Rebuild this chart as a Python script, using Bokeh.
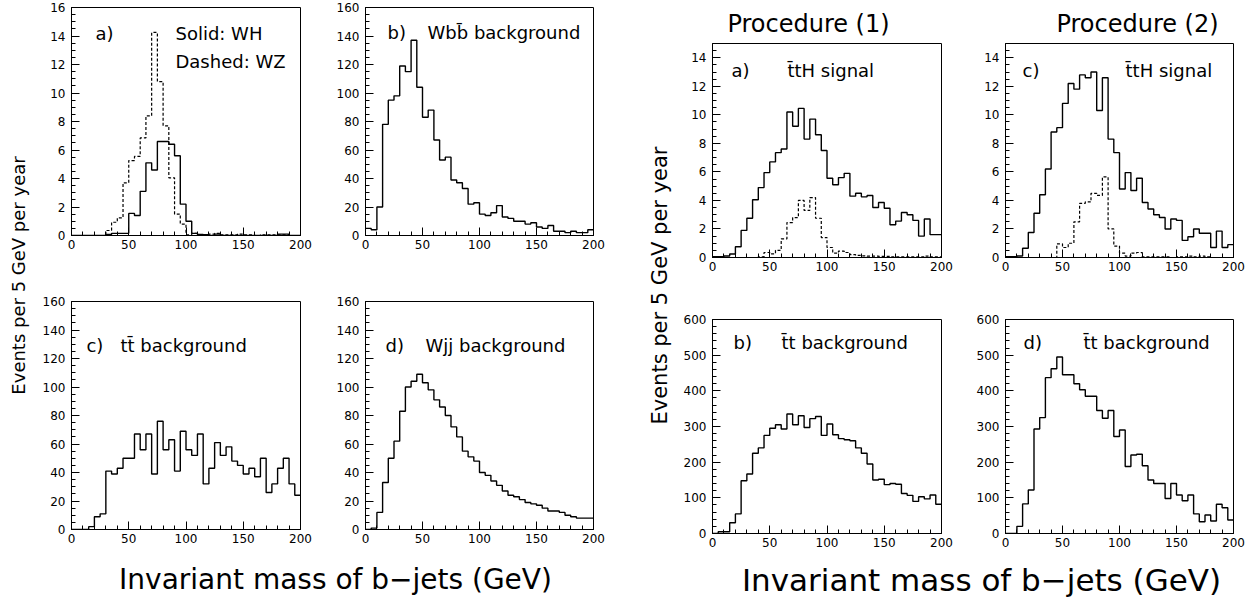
import numpy as np
from bokeh.plotting import figure
from bokeh.layouts import row, column
from bokeh.models import Range1d, SingleIntervalTicker
from bokeh.core.properties import value
from bokeh.embed import file_html
from bokeh.resources import INLINE

FONT = "DejaVu Sans"

# ---------------- data (events per 5 GeV bin, 0-200 GeV) ----------------
bin_edges = list(range(0, 205, 5))

wh_signal = [0, 0, 0, 0, 0, 0, 0.07, 0.15, 0.15, 0.15, 1.55, 1.4, 3.1, 5.1, 4.6, 6.6, 6.6, 6.4, 5.6, 2.2,
             1.0, 0.15, 0.07, 0.05, 0, 0.1, 0, 0, 0, 0, 0, 0, 0, 0, 0, 0, 0.1, 0.1, 0, 0]
wz_bkg = [0, 0, 0, 0, 0, 0, 0.35, 0.93, 1.24, 3.7, 5.26, 5.55, 6.85, 8.4, 14.25, 10.8, 7.7, 4.05, 1.5, 0.8,
          0.05, 0.15, 0.05, 0.05, 0.1, 0.15, 0.05, 0.05, 0.05, 0.1, 0.05, 0.05, 0, 0.05, 0.05, 0.05, 0.05, 0.05, 0, 0]
wbb_bkg = [5, 4, 20, 78, 95, 98, 119, 115, 137, 104, 83, 88, 67, 53, 55, 39, 37, 33, 22, 23,
           15, 14, 16, 21, 13, 12, 10, 10, 8, 9, 6, 5, 7, 3, 3, 2, 3, 2, 2, 4]
tt_bkg_wh = [0, 0, 0, 2, 9, 11, 41, 39, 43, 50, 50, 67, 56, 67, 39, 76, 56, 63, 41, 69,
             56, 52, 67, 32, 43, 61, 52, 58, 48, 45, 39, 43, 37, 50, 26, 32, 43, 50, 32, 24]
wjj_bkg = [0, 1, 12, 33, 50, 62, 83, 100, 104, 109, 103, 98, 91, 86, 80, 72, 65, 55, 51, 48,
           40, 38, 34, 31, 27, 24, 23, 21, 19, 18, 17, 15, 13, 13, 12, 10, 9, 8, 8, 8]

tth_proc1 = [0.05, 0.05, 0.1, 0.25, 0.75, 1.9, 2.75, 4.05, 4.9, 5.95, 6.7, 7.35, 7.6, 10.2, 9.2, 10.45, 8.3, 9.7, 8.6, 7.5,
             5.55, 5.1, 5.6, 5.9, 4.3, 4.5, 4.25, 4.35, 3.5, 3.85, 3.45, 2.3, 2.55, 3.15, 3.0, 2.6, 1.5, 2.7, 1.6, 1.6]
tth_proc1_dashed = [0, 0, 0, 0, 0, 0, 0, 0, 0.05, 0.35, 0.25, 0.5, 1.3, 2.45, 2.8, 4.0, 3.3, 4.2, 2.75, 1.4,
                    0.7, 0.3, 0.45, 0.35, 0.2, 0.15, 0.12, 0.1, 0.1, 0.08, 0.08, 0.05, 0.05, 0.05, 0.05, 0.05, 0.05, 0.1, 0.05, 0.05]
tth_proc2 = [0.05, 0.05, 0.1, 0.65, 1.75, 3.1, 4.4, 6.2, 8.8, 9.1, 10.8, 12.2, 11.8, 12.8, 12.6, 13.0, 10.3, 12.6, 8.3, 7.35,
             4.8, 5.95, 4.7, 5.55, 3.85, 3.4, 3.0, 2.8, 2.0, 2.7, 2.6, 1.2, 1.45, 2.0, 1.7, 1.7, 0.7, 1.85, 0.7, 0.9]
tth_proc2_dashed = [0, 0, 0, 0, 0, 0, 0, 0, 0, 0.95, 0.7, 1.0, 2.5, 3.8, 3.9, 4.5, 4.35, 5.65, 2.0, 0.8,
                    0.3, 0.1, 0.3, 0.35, 0.05, 0.05, 0.05, 0.05, 0.05, 0, 0.05, 0.05, 0.1, 0.05, 0.1, 0.05, 0, 0, 0, 0]
tt_proc1 = [0, 5, 5, 30, 55, 148, 167, 225, 240, 275, 295, 305, 293, 335, 305, 330, 297, 322, 328, 275,
            307, 277, 266, 263, 260, 240, 225, 195, 150, 152, 137, 140, 138, 112, 107, 90, 103, 97, 108, 82]
tt_proc2 = [0, 0, 20, 83, 122, 293, 325, 437, 462, 495, 445, 445, 420, 403, 385, 385, 345, 323, 345, 272,
            290, 188, 220, 222, 190, 150, 140, 140, 98, 140, 108, 92, 108, 55, 33, 52, 35, 82, 72, 38]

x_label = "Invariant mass of b\u2212jets (GeV)"
y_label = "Events per 5 GeV per year"

edges = np.asarray(bin_edges, float)


def step_xy(vals):
    v = np.asarray(vals, float)
    return np.repeat(edges, 2)[1:-1], np.repeat(v, 2)


def style_axis(ax, ticker):
    ax.ticker = ticker
    ax.major_tick_in = 8
    ax.major_tick_out = 0
    ax.minor_tick_in = 4
    ax.minor_tick_out = 0
    ax.axis_line_color = "black"
    ax.major_tick_line_color = "black"
    ax.minor_tick_line_color = "black"
    ax.major_label_text_font = FONT
    ax.major_label_text_font_size = "12px"
    ax.major_label_text_color = "black"


def panel(w, h, bl, br, bt, bb, ymax, yint, yminor, solid, dashed, labels):
    p = figure(width=w, height=h, x_range=Range1d(0, 200), y_range=Range1d(0, ymax),
               output_backend="svg", toolbar_location=None,
               min_border_left=bl, min_border_right=br, min_border_top=bt, min_border_bottom=bb)
    p.xgrid.visible = False
    p.ygrid.visible = False
    p.outline_line_color = "black"
    p.outline_line_alpha = 1.0
    p.background_fill_color = "white"
    p.border_fill_color = "white"
    style_axis(p.xaxis[0], SingleIntervalTicker(interval=50, num_minor_ticks=5))
    style_axis(p.yaxis[0], SingleIntervalTicker(interval=yint, num_minor_ticks=yminor))
    p.xaxis[0].major_label_standoff = 4
    p.yaxis[0].major_label_standoff = 6
    xs, ys = step_xy(solid)
    p.line(xs, ys, line_color="black", line_width=1.4)
    if dashed is not None:
        xd, yd = step_xy(dashed)
        p.line(xd, yd, line_color="black", line_width=1.2, line_dash="3 2")
    for (tx, ty, tt) in labels:
        p.text(x=[tx], y=[ty], text=[tt], text_font=value(FONT), text_font_size="18px",
               text_baseline="middle", text_align="left", text_color="black")
    return p


def strip(w, h):
    p = figure(width=w, height=h, x_range=Range1d(0, w), y_range=Range1d(0, h),
               x_axis_type=None, y_axis_type=None, min_border=0,
               output_backend="svg", toolbar_location=None)
    p.outline_line_color = None
    p.grid.visible = False
    return p


TOP_H = 553  # height of the panel area; the rest holds the x-axis titles

# ---------------- left group ----------------
La = panel(282, 270, 33, 20, 7, 35, 16, 2, 4, wh_signal, wz_bkg,
           [(21, 14.18, "a)"), (90.8, 14.18, "Solid: WH"), (90.8, 12.2, "Dashed: WZ")])
Lb = panel(310, 270, 45, 37, 7, 35, 160, 20, 4, wbb_bkg, None,
           [(19.3, 142.5, "b)"), (54.4, 142.5, "Wbb\u0304 background")])
Lc = panel(282, 283, 33, 20, 31, 24, 160, 20, 4, tt_bkg_wh, None,
           [(13, 129, "c)"), (42.8, 129, "tt\u0304 background")])
Ld = panel(310, 283, 45, 37, 31, 24, 160, 20, 4, wjj_bkg, None,
           [(17.5, 129, "d)"), (52.6, 129, "Wjj background")])

yL = strip(38, TOP_H)
yL.text(x=[18], y=[TOP_H - 275], text=[y_label], angle=np.pi / 2, text_font=value(FONT),
        text_font_size="18px", text_align="center", text_baseline="middle", text_color="black")

left = row(yL, column(row(La, Lb), row(Lc, Ld)))

# ---------------- right group ----------------
Ra = panel(285, 250, 32, 24, 5, 31, 15, 2, 4, tth_proc1, tth_proc1_dashed,
           [(16.6, 13.1, "a)"), (65.5, 13.1, "t\u0304tH signal")])
Rc = panel(295, 250, 40, 27, 5, 31, 15, 2, 4, tth_proc2, tth_proc2_dashed,
           [(14.9, 13.1, "c)"), (105.3, 13.1, "t\u0304tH signal")])
Rb = panel(285, 265, 32, 24, 31, 20, 600, 100, 5, tt_proc1, None,
           [(18.3, 535, "b)"), (60.3, 535, "t\u0304t background")])
Rd = panel(295, 265, 40, 27, 31, 20, 600, 100, 5, tt_proc2, None,
           [(15.8, 535, "d)"), (68.4, 535, "t\u0304t background")])

tR = strip(580, 38)
tR.text(x=[808 - 680, 1137 - 680], y=[38 - 23, 38 - 23], text=["Procedure (1)", "Procedure (2)"],
        text_font=value(FONT), text_font_size="24px", text_align="center", text_baseline="middle",
        text_color="black")

yR = strip(50, TOP_H)
yR.text(x=[29], y=[TOP_H - 285], text=[y_label], angle=np.pi / 2, text_font=value(FONT),
        text_font_size="21px", text_align="center", text_baseline="middle", text_color="black")

right = row(yR, column(tR, row(Ra, Rc), row(Rb, Rd)))

# ---------------- bottom axis titles ----------------
xS = strip(1260, 597 - TOP_H)
xS.text(x=[335], y=[597 - 579], text=[x_label], text_font=value(FONT), text_font_size="28px",
        text_align="center", text_baseline="alphabetic", text_color="black")
xS.text(x=[981], y=[597 - 579], text=[x_label], text_font=value(FONT), text_font_size="31px",
        text_align="center", text_baseline="alphabetic", text_color="black")

page = column(row(left, right), xS)

with open("out.html", "w") as f:
    f.write(file_html(page, INLINE))
